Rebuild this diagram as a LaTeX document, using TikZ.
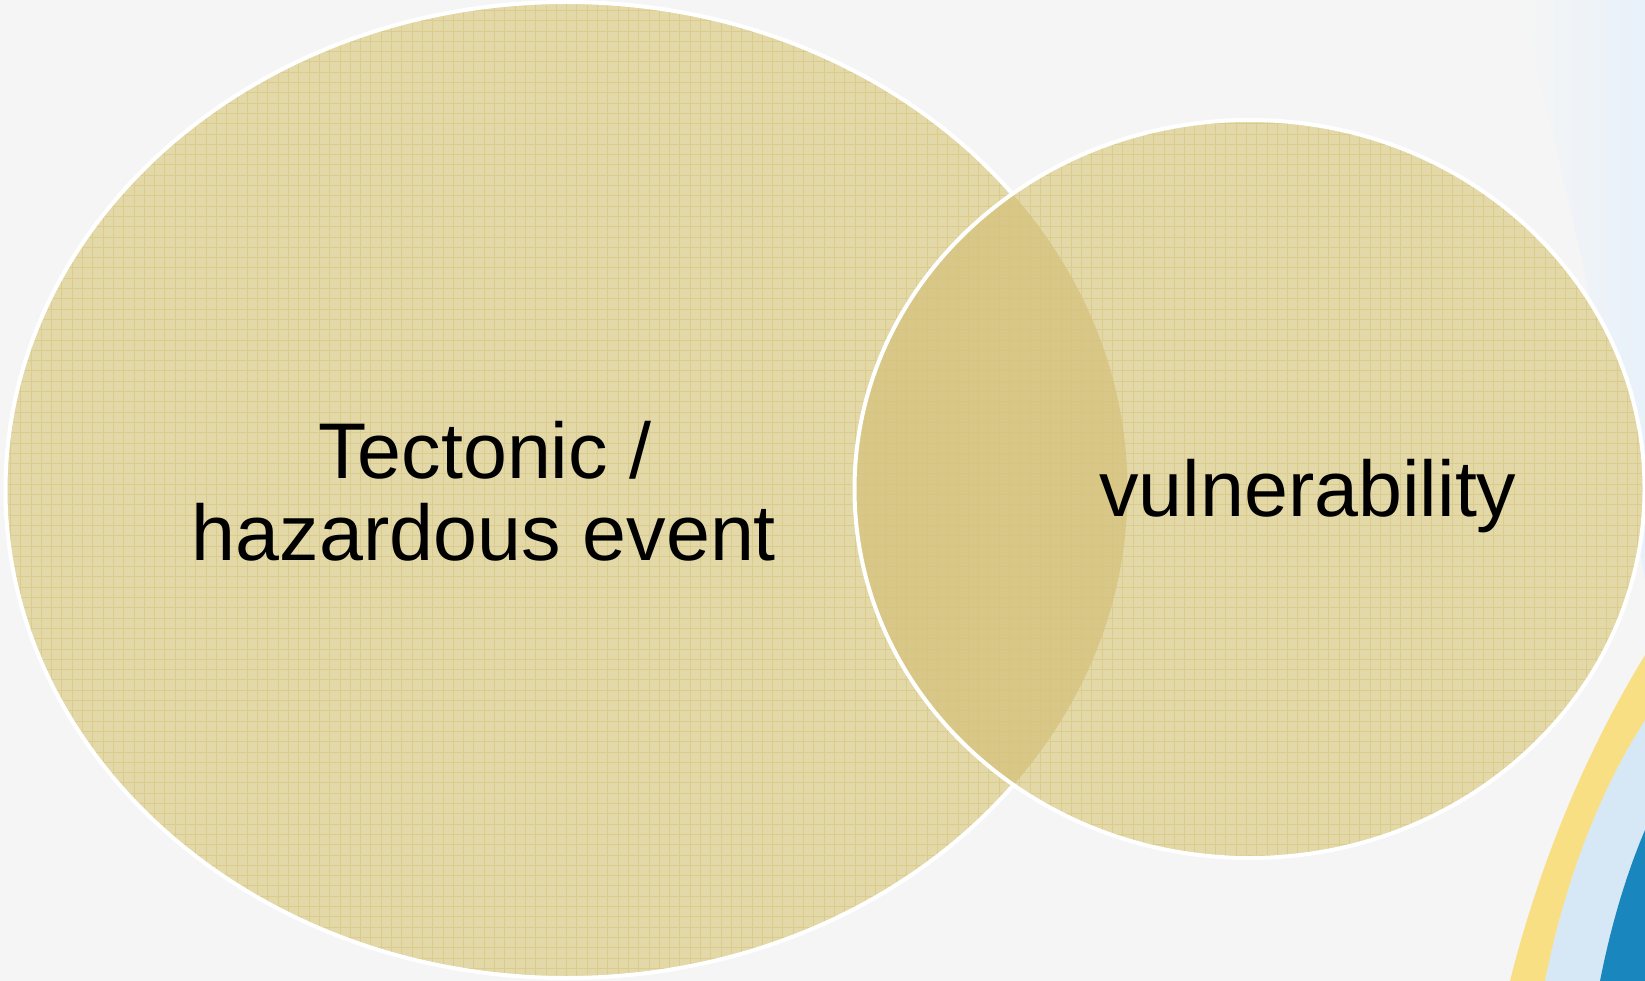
\documentclass[tikz,border=0pt]{standalone}
\usepackage{fontspec}
\setmainfont{Liberation Sans}
\definecolor{bg}{RGB}{245,245,245}
\definecolor{swtop}{RGB}{232,241,250}
\definecolor{swyellow}{RGB}{248,223,132}
\definecolor{swlight}{RGB}{214,232,245}
\definecolor{swblue}{RGB}{26,134,190}
\definecolor{vfill}{RGB}{227,216,168}
\definecolor{lensfill}{RGB}{216,199,134}
\definecolor{gridc}{RGB}{214,196,126}
\tikzset{
  lbl/.style={anchor=base, inner sep=0pt, font=\fontsize{79}{82}\selectfont, text=black},
  gridline/.style={draw=gridc, line width=0.7pt, opacity=0.6},
  rim/.style={draw=white, line width=4pt}
}
\begin{document}
\begin{tikzpicture}[x=1pt,y=-1pt]
\useasboundingbox (0,0) rectangle (1645,981);
\fill[bg] (0,0) rectangle (1645,981);
% background swooshes
\shade[left color=bg, right color=swtop] (1520,0) .. controls (1570,200) and (1615,400) .. (1645,580) -- (1645,0) -- cycle;
\fill[swlight] (1545,981) .. controls (1565,880) and (1600,790) .. (1645,720) -- (1645,981) -- cycle;
\fill[swyellow] (1510,981) .. controls (1543,850) and (1592,742) .. (1645,655) -- (1645,720) .. controls (1600,790) and (1565,880) .. (1545,981) -- cycle;
\fill[swblue] (1600,981) .. controls (1612,920) and (1628,870) .. (1645,830) -- (1645,981) -- cycle;
% big ellipse
\fill[vfill] (566.5,490) ellipse [x radius=561pt, y radius=488pt];
\begin{scope}
\clip (566.5,490) ellipse [x radius=561pt, y radius=488pt];
\draw[gridline] (0,0) grid[step=10.3pt] (1645,981);
\end{scope}
\draw[rim] (566.5,490) ellipse [x radius=561pt, y radius=488pt];
% small ellipse
\fill[vfill] (1249.5,489) ellipse [x radius=395pt, y radius=369pt];
\begin{scope}
\clip (566.5,490) ellipse [x radius=561pt, y radius=488pt];
\fill[lensfill] (1249.5,489) ellipse [x radius=395pt, y radius=369pt];
\end{scope}
\begin{scope}
\clip (1249.5,489) ellipse [x radius=395pt, y radius=369pt];
\draw[gridline] (0,0) grid[step=10.3pt] (1645,981);
\end{scope}
\draw[rim] (1249.5,489) ellipse [x radius=395pt, y radius=369pt];
% labels
\node[lbl] (t1) at (485,478) {Tectonic /};
\node[lbl] (t2) at (484,560) {hazardous event};
\node[lbl] (v) at (1308,516) {vulnerability};
\end{tikzpicture}
\end{document}
